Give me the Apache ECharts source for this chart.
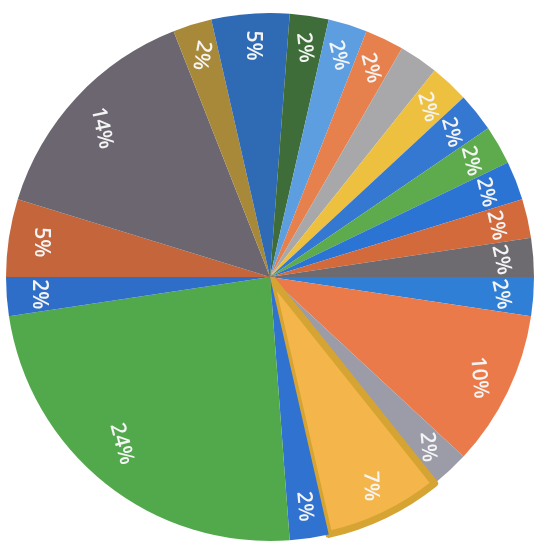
<!DOCTYPE html>
<html><head><meta charset="utf-8">
<script src="https://cdn.jsdelivr.net/npm/echarts@6/dist/echarts.min.js"></script>
<style>html,body{margin:0;padding:0;background:#fff;}#c{width:542px;height:548px;}</style>
</head><body><div id="c"></div>
<script>
// Slices in drawing order (clockwise, first slice starts at 3 o'clock)
const categories = ['Item 1','Item 2','Item 3','Item 4','Item 5','Item 6','Item 7','Item 8','Item 9','Item 10','Item 11','Item 12','Item 13','Item 14','Item 15','Item 16','Item 17','Item 18','Item 19','Item 20','Item 21'];
const counts = [1, 4, 1, 3, 1, 10, 1, 2, 6, 1, 2, 1, 1, 1, 1, 1, 1, 1, 1, 1, 1];

// styles
const colors = ['#2f7fd6','#ea7a4a','#9c9ca8','#f4b64a','#2f72d0','#52a94c','#2f6ec8','#c4653c','#6b6670','#a8893a','#2f6ab4','#3f6d3a','#5c9ee0','#e6814e','#a8a8aa','#eec040','#3478d2','#5dab4c','#2c74d4','#d26a3c','#6d6a70'];
const labelRotate = [-78, -85, -85, -88, -85, -75, -90, -90, -78, -100, -90, -84, -76, -76, -75, -75, -75, -76, -77, -78, -78];
const labelPadStart = [0, 0, 0, 0, 0, 0, 0, 0, 18, 0, 0, 0, 0, 0, 0, 0, 0, 0, 0, 0, 0];
const labelPadEnd = [0, 0, 0, 0, 0, 30, 0, 0, 0, 0, 0, 0, 0, 0, 0, 0, 0, 0, 0, 0, 0];

const chart = echarts.init(document.getElementById('c'), null, {renderer: 'canvas'});
const center = [270, 277];
const R = 264;

const mainData = categories.map((n, i) => {
  const d = {name: n, value: counts[i], itemStyle: {color: colors[i]}};
  if (i === 3) { d.itemStyle.borderColor = '#d6a433'; d.itemStyle.borderWidth = 7; d.itemStyle.borderJoin = 'round'; }
  return d;
});
const labelData = categories.map((n, i) => ({
  name: n, value: counts[i],
  label: {rotate: labelRotate[i], padding: [0, labelPadEnd[i], 0, labelPadStart[i]]}
}));

chart.setOption({
  animation: false,
  backgroundColor: '#ffffff',
  series: [
    {
      type: 'pie', center: center, radius: R, startAngle: 0, clockwise: true,
      silent: true, label: {show: false}, labelLine: {show: false},
      itemStyle: {borderWidth: 0},
      data: mainData
    },
    {
      type: 'pie', center: center, radius: [194, R], startAngle: 0, clockwise: true,
      silent: true, avoidLabelOverlap: false,
      itemStyle: {color: 'rgba(0,0,0,0)', borderWidth: 0},
      labelLine: {show: false},
      label: {
        show: true, position: 'inside', color: '#f4f4f4',
        fontFamily: 'Open Sans', fontSize: 21, fontWeight: 600,
        formatter: p => Math.round(p.percent) + '%'
      },
      data: labelData
    }
  ]
});
</script>
</body></html>
